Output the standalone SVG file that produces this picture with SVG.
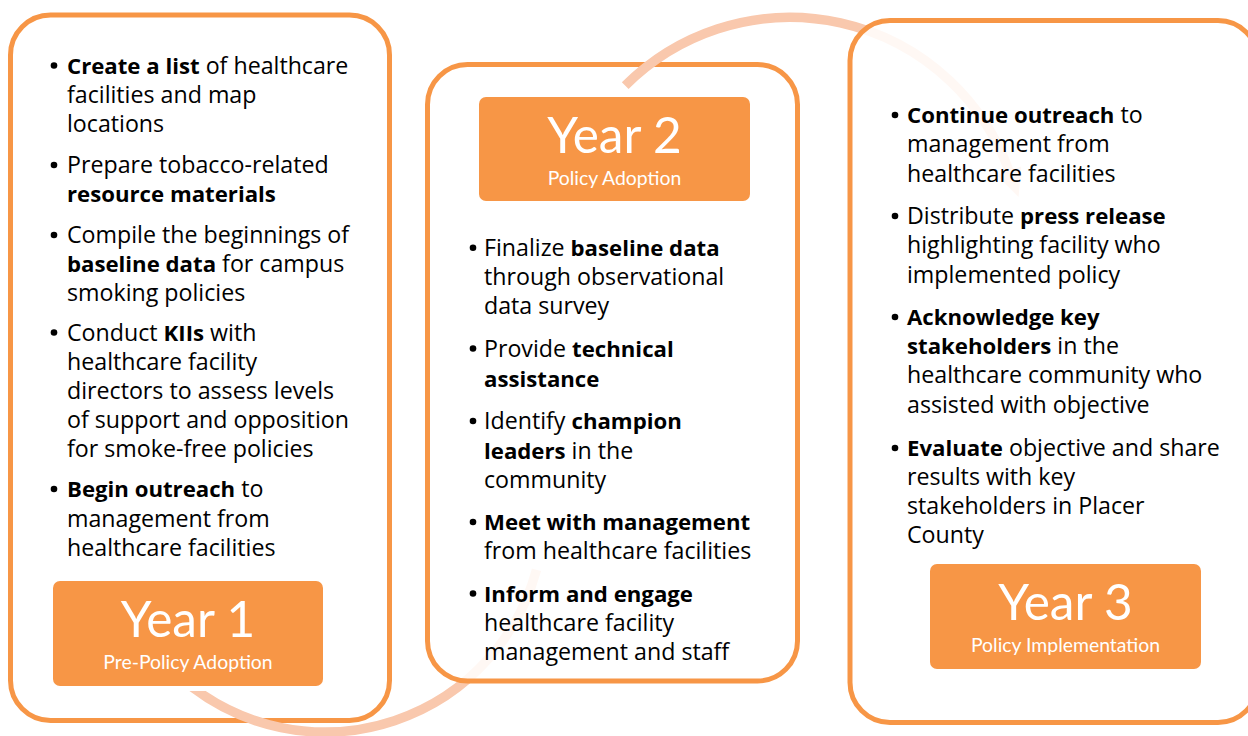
<svg xmlns="http://www.w3.org/2000/svg" width="1248" height="736" viewBox="0 0 1248 736">
  <style>
    .panel { fill: #FFFFFF; stroke: #F79646; stroke-width: 5; }
    .panel-veil { fill: #FFFFFF; fill-opacity: 0.87; stroke: #F79646; stroke-width: 5; }
    .badge { fill: #F79646; }
    .year { font-family: Lato, "Open Sans", sans-serif; font-size: 49.5px; fill: #FFFFFF; text-anchor: middle; }
    .phase { font-family: Lato, "Open Sans", sans-serif; font-size: 19.4px; fill: #FFFFFF; text-anchor: middle; }
    .item { font-family: "Open Sans", Lato, sans-serif; font-size: 23.2px; fill: #000000; }
    .b { font-weight: bold; font-size: 22.2px; }
    .dot { fill: #000000; }
    .flow { fill: none; stroke: #F9C8AD; stroke-width: 9.5; stroke-linecap: butt; }
    .flow-head { fill: #F9C8AD; }
  </style>
  <defs>
    <clipPath id="below-badge1">
      <rect x="0" y="691" width="1248" height="60"/>
      <rect x="330" y="400" width="300" height="300"/>
    </clipPath>
  </defs>

  <!-- Year 1 panel -->
  <g id="year1">
    <rect class="panel" x="10.5" y="15" width="379" height="705.5" rx="40"/>
    <rect class="badge" x="53" y="581" width="270" height="105" rx="7"/>
    <text class="year" x="188" y="637">Year 1</text>
    <text class="phase" x="188" y="669">Pre-Policy Adoption</text>
    <g>
      <circle class="dot" cx="54" cy="65.5" r="3.3"/>
      <text class="item" x="67" y="73.5"><tspan class="b">Create a list</tspan> of healthcare</text>
      <text class="item" x="67" y="102.5">facilities and map</text>
      <text class="item" x="67" y="131.5">locations</text>

      <circle class="dot" cx="54" cy="165" r="3.3"/>
      <text class="item" x="67" y="173">Prepare tobacco-related</text>
      <text class="item" x="67" y="202"><tspan class="b">resource materials</tspan></text>

      <circle class="dot" cx="54" cy="235" r="3.3"/>
      <text class="item" x="67" y="243">Compile the beginnings of</text>
      <text class="item" x="67" y="272"><tspan class="b">baseline data</tspan> for campus</text>
      <text class="item" x="67" y="301">smoking policies</text>

      <circle class="dot" cx="54" cy="332.5" r="3.3"/>
      <text class="item" x="67" y="340.5">Conduct <tspan class="b">KIIs</tspan> with</text>
      <text class="item" x="67" y="370">healthcare facility</text>
      <text class="item" x="67" y="399">directors to assess levels</text>
      <text class="item" x="67" y="428">of support and opposition</text>
      <text class="item" x="67" y="457">for smoke-free policies</text>

      <circle class="dot" cx="54" cy="489" r="3.3"/>
      <text class="item" x="67" y="497"><tspan class="b">Begin outreach</tspan> to</text>
      <text class="item" x="67" y="526.5">management from</text>
      <text class="item" x="67" y="555.5">healthcare facilities</text>
    </g>
  </g>

  <!-- connectors: curved hand-off arrows between the yearly panels -->
  <g id="connectors">
    <path id="flow-1-2" class="flow" clip-path="url(#below-badge1)" d="M 190.2 685.6 A 219 219 0 0 0 536.5 569.7"/>
  </g>

  <!-- Year 2 panel -->
  <g id="year2">
    <rect class="panel-veil" x="427.5" y="64.5" width="370" height="616.5" rx="40"/>
    <rect class="badge" x="479" y="97" width="271" height="104" rx="7"/>
    <text class="year" x="614.5" y="153">Year 2</text>
    <text class="phase" x="614.5" y="185">Policy Adoption</text>
    <g>
      <circle class="dot" cx="473" cy="247.7" r="3.3"/>
      <text class="item" x="484" y="255.7">Finalize <tspan class="b">baseline data</tspan></text>
      <text class="item" x="484" y="285">through observational</text>
      <text class="item" x="484" y="314">data survey</text>

      <circle class="dot" cx="473" cy="348.5" r="3.3"/>
      <text class="item" x="484" y="356.5">Provide <tspan class="b">technical</tspan></text>
      <text class="item" x="484" y="386.5"><tspan class="b">assistance</tspan></text>

      <circle class="dot" cx="473" cy="421" r="3.3"/>
      <text class="item" x="484" y="429">Identify <tspan class="b">champion</tspan></text>
      <text class="item" x="484" y="458.5"><tspan class="b">leaders</tspan> in the</text>
      <text class="item" x="484" y="488">community</text>

      <circle class="dot" cx="473" cy="522" r="3.3"/>
      <text class="item" x="484" y="530"><tspan class="b">Meet with management</tspan></text>
      <text class="item" x="484" y="559">from healthcare facilities</text>

      <circle class="dot" cx="473" cy="593.5" r="3.3"/>
      <text class="item" x="484" y="601.5"><tspan class="b">Inform and engage</tspan></text>
      <text class="item" x="484" y="631">healthcare facility</text>
      <text class="item" x="484" y="660">management and staff</text>
    </g>
  </g>

  <g id="connectors-2">
    <path id="flow-2-3" class="flow" d="M 625.2 85.7 A 233 233 0 0 1 1009 170.8"/>
    <polygon class="flow-head" points="1021.2,166.4 1018.6,197 996.8,175.2"/>
  </g>

  <!-- Year 3 panel -->
  <g id="year3">
    <rect class="panel-veil" x="850" y="20.5" width="408" height="702" rx="40"/>
    <rect class="badge" x="930" y="564" width="271" height="105" rx="7"/>
    <text class="year" x="1065.5" y="620">Year 3</text>
    <text class="phase" x="1065.5" y="652">Policy Implementation</text>
    <g>
      <circle class="dot" cx="895" cy="115" r="3.3"/>
      <text class="item" x="907" y="123"><tspan class="b">Continue outreach</tspan> to</text>
      <text class="item" x="907" y="152">management from</text>
      <text class="item" x="907" y="181.5">healthcare facilities</text>

      <circle class="dot" cx="895" cy="216" r="3.3"/>
      <text class="item" x="907" y="224">Distribute <tspan class="b">press release</tspan></text>
      <text class="item" x="907" y="253">highlighting facility who</text>
      <text class="item" x="907" y="282.5">implemented policy</text>

      <circle class="dot" cx="895" cy="317" r="3.3"/>
      <text class="item" x="907" y="325"><tspan class="b">Acknowledge key</tspan></text>
      <text class="item" x="907" y="354"><tspan class="b">stakeholders</tspan> in the</text>
      <text class="item" x="907" y="383">healthcare community who</text>
      <text class="item" x="907" y="412.5">assisted with objective</text>

      <circle class="dot" cx="895" cy="448" r="3.3"/>
      <text class="item" x="907" y="456"><tspan class="b">Evaluate</tspan> objective and share</text>
      <text class="item" x="907" y="485">results with key</text>
      <text class="item" x="907" y="514">stakeholders in Placer</text>
      <text class="item" x="907" y="543">County</text>
    </g>
  </g>
</svg>
